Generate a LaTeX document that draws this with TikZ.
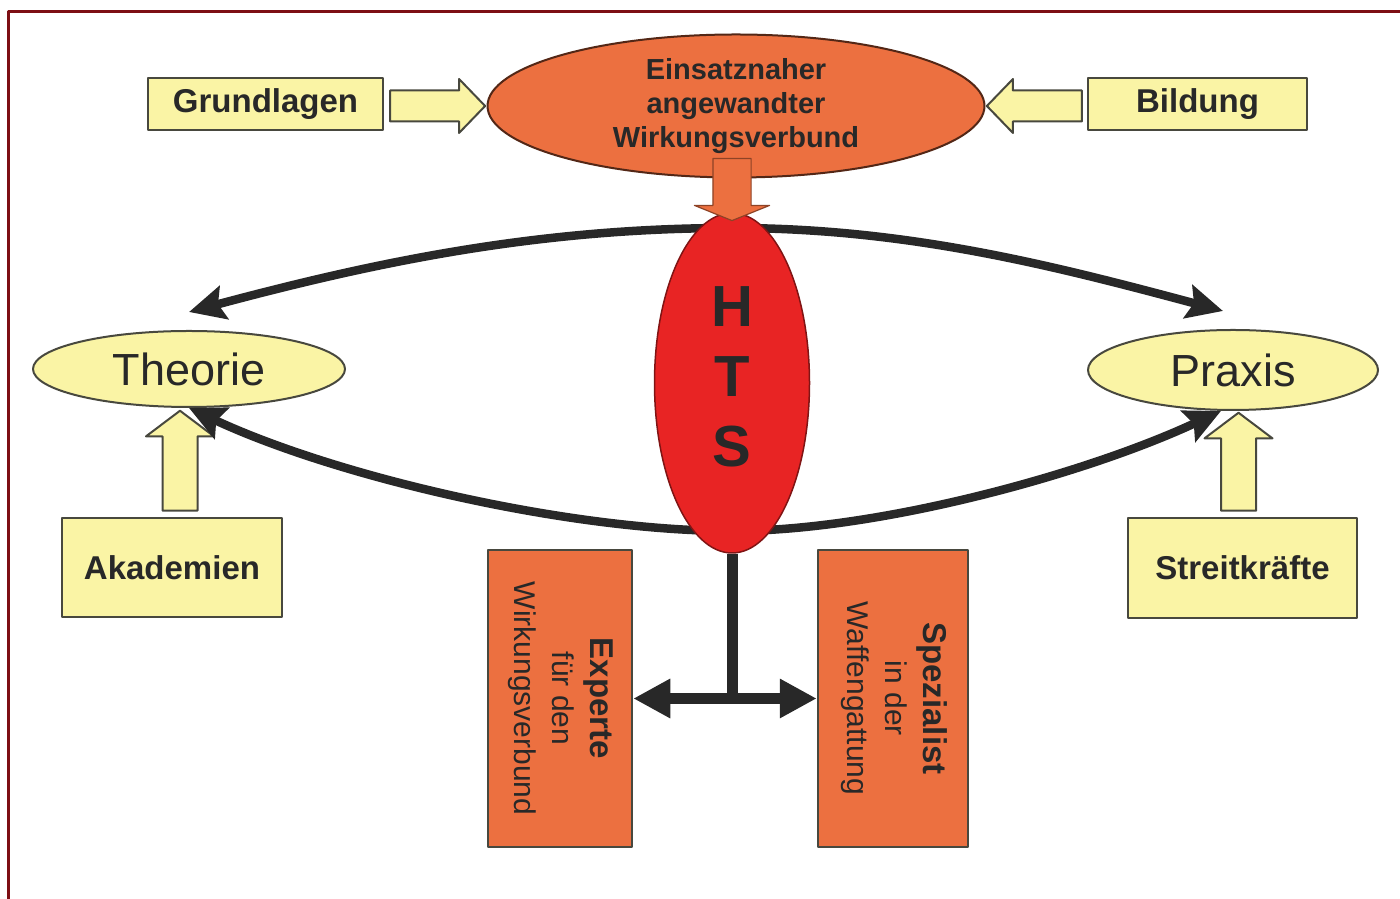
\documentclass[tikz,border=0pt]{standalone}
\usepackage{fontspec}
\setmainfont{Liberation Sans}
\usepackage{graphicx}
\usetikzlibrary{arrows.meta}
\usetikzlibrary{shapes.geometric}
\usetikzlibrary{shapes.arrows}
\usetikzlibrary{calc}

\definecolor{boxyellow}{RGB}{250,244,165}
\definecolor{boxorange}{RGB}{236,112,64}
\definecolor{htsred}{RGB}{232,36,36}
\definecolor{edgegray}{RGB}{72,72,62}
\definecolor{framered}{RGB}{125,15,20}
\definecolor{inkgray}{RGB}{40,40,40}

\begin{document}
\begin{tikzpicture}[x=1pt,y=1pt,line join=round,
    ybox/.style={rectangle,draw=edgegray,line width=2.5pt,fill=boxyellow,inner sep=0pt,text=inkgray,font=\fontsize{33}{38}\selectfont\bfseries},
    obox/.style={rectangle,draw=edgegray,line width=2.5pt,fill=boxorange,inner sep=0pt,text=inkgray,font=\fontsize{30}{38}\selectfont},
    yell/.style={ellipse,draw=edgegray,line width=2pt,fill=boxyellow,inner sep=0pt,text=inkgray,font=\fontsize{45}{50}\selectfont},
    oell/.style={ellipse,draw=boxorange!35!black,line width=2pt,fill=boxorange,inner sep=0pt,align=center,text=inkgray,font=\fontsize{29}{34}\selectfont\bfseries},
    hell/.style={ellipse,draw=htsred!55!black,line width=1.5pt,fill=htsred,inner sep=0pt,text=inkgray,font=\fontsize{58}{70}\selectfont\bfseries},
    sidearrow/.style={single arrow,draw=edgegray,line width=2pt,fill=boxyellow,inner sep=14.5pt,minimum width=52pt,single arrow head extend=11.5pt,single arrow tip angle=92,minimum height=95pt},
    liftarrow/.style={single arrow,draw=edgegray,line width=2pt,fill=boxyellow,inner sep=16.5pt,minimum width=66pt,single arrow head extend=16.5pt,single arrow tip angle=106,rotate=90},
    feedarrow/.style={single arrow,draw=boxorange!60!black,line width=1.2pt,fill=boxorange,inner sep=18.5pt,minimum width=74pt,single arrow head extend=18.5pt,single arrow tip angle=136,rotate=-90,minimum height=62pt},
    bow/.style={line width=8.5pt,draw=inkgray,{Stealth[length=36pt,width=34pt,inset=6pt]}-{Stealth[length=36pt,width=34pt,inset=6pt]}},
    tbar/.style={line width=11pt,draw=inkgray}]
  \useasboundingbox (0,0) rectangle (1400,899);
  \draw[framered,line width=3pt] (8,0) -- (8,887) -- (1400,887);

  \node[ybox,minimum width=235pt,minimum height=52pt] (grund) at (265.5,795) {Grundlagen};
  \node[ybox,minimum width=219pt,minimum height=52pt] (bildung) at (1197.5,795) {Bildung};
  \node[oell,minimum width=497pt,minimum height=143pt] (topell) at (736,793) {Einsatznaher\\angewandter\\Wirkungsverbund};
  \node[yell,minimum width=312pt,minimum height=76pt] (theorie) at (189,530) {Theorie};
  \node[yell,minimum width=290pt,minimum height=80pt] (praxis) at (1233,529) {Praxis};
  \node[ybox,minimum width=220pt,minimum height=99pt] (akad) at (172,331.5) {Akademien};
  \node[ybox,minimum width=229pt,minimum height=100pt] (streit) at (1242.5,331) {Streitkräfte};
  \node[obox,minimum width=144pt,minimum height=297pt] (experte) at (560,200.5)
    {\rotatebox{-90}{\begin{tabular}{@{}c@{}}{\fontsize{33}{38}\selectfont\bfseries Experte}\\ für den\\ Wirkungsverbund\end{tabular}}};
  \node[obox,minimum width=150pt,minimum height=297pt] (spez) at (893,200.5)
    {\rotatebox{-90}{\begin{tabular}{@{}c@{}}{\fontsize{33}{38}\selectfont\bfseries Spezialist}\\ in der\\ Waffengattung\end{tabular}}};

  \node[sidearrow,anchor=tip] (grundpfeil) at (topell.west) {};
  \node[sidearrow,rotate=180,anchor=tip] (bildpfeil) at (topell.east) {};
  \node[liftarrow,minimum height=100pt,anchor=tail] (akadpfeil) at ([xshift=8pt,yshift=5pt]akad.north) {};
  \node[liftarrow,minimum height=98pt,anchor=tail] (streitpfeil) at ([xshift=-4pt,yshift=5pt]streit.north) {};

  \coordinate (obenmitte) at (732,671);
  \coordinate (untenmitte) at (732,368);
  \draw[bow] ([yshift=18pt]theorie.north) to[out=15,in=180,looseness=0.9] (obenmitte)
    to[out=0,in=165,looseness=0.9] ([xshift=-10pt,yshift=18pt]praxis.north);
  \draw[bow] (theorie.south) to[out=-25,in=180,looseness=0.75] (untenmitte)
    to[out=0,in=-155,looseness=0.75] ([xshift=-12pt]praxis.south);

  \node[hell,minimum width=155pt,minimum height=340pt] (hts) at (732,516)
    {\raisebox{3pt}{\begin{tabular}{@{}c@{}}H\\T\\S\end{tabular}}};

  \coordinate (verzweigung) at (hts.south |- experte.east);
  \draw[tbar] (hts.south) -- (verzweigung);
  \draw[tbar,{Triangle[length=37pt,width=37pt]}-{Triangle[length=37pt,width=37pt]}] (experte.east) -- (spez.west);

  \node[feedarrow,anchor=tip] (htspfeil) at ([yshift=-9pt]hts.north) {};
\end{tikzpicture}
\end{document}
